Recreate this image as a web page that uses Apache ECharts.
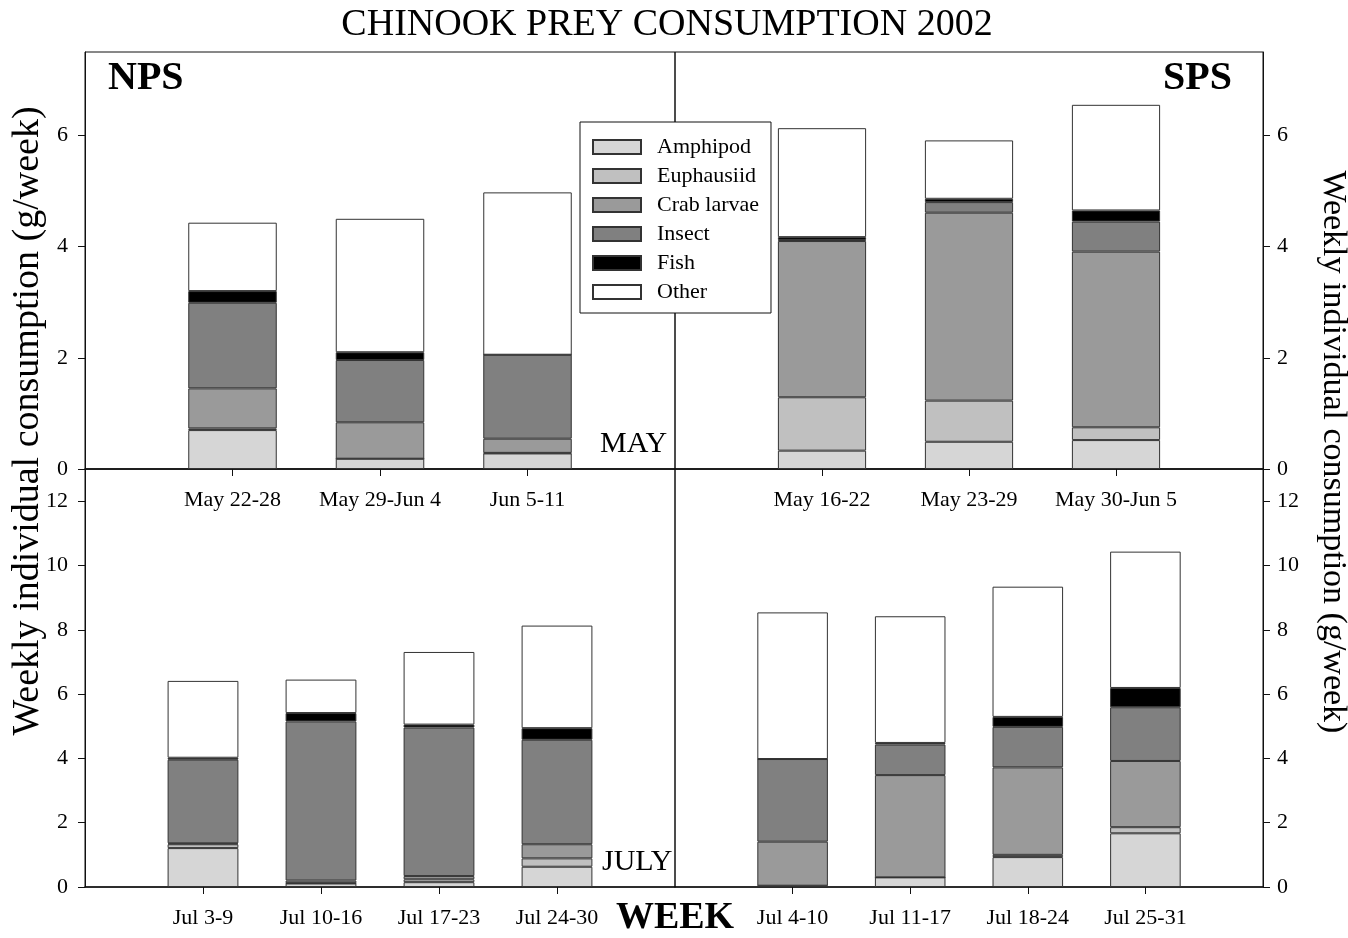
<!DOCTYPE html>
<html>
<head>
<meta charset="utf-8">
<title>Chinook prey consumption 2002</title>
<script src="https://cdn.jsdelivr.net/npm/echarts@6/dist/echarts.min.js"></script>
<style>
  html, body { margin: 0; padding: 0; background: #fff; }
  #chart { width: 1348px; height: 938px; }
</style>
</head>
<body>
<div id="chart"></div>
<script>
// Prey groups, bottom of each stack first
const preyNames = ['Amphipod', 'Euphausiid', 'Crab larvae', 'Insect', 'Fish', 'Other'];
const preyColors = ['#d6d6d6', '#c0c0c0', '#9a9a9a', '#808080', '#000000', '#ffffff'];

// Sampling weeks per basin and month
const npsMayWeeks = ['May 22-28', 'May 29-Jun 4', 'Jun 5-11'];
const spsMayWeeks = ['May 16-22', 'May 23-29', 'May 30-Jun 5'];
const npsJulWeeks = ['Jul 3-9', 'Jul 10-16', 'Jul 17-23', 'Jul 24-30'];
const spsJulWeeks = ['Jul 4-10', 'Jul 11-17', 'Jul 18-24', 'Jul 25-31'];

// Weekly individual consumption (g/week), one row per prey group (same order as preyNames)
const npsMayValues = [
  [0.70, 0.185, 0.28],
  [0.03, 0.00, 0.01],
  [0.72, 0.655, 0.255],
  [1.54, 1.12, 1.51],
  [0.21, 0.14, 0.00],
  [1.23, 2.40, 2.92]
];
const spsMayValues = [
  [0.33, 0.49, 0.52],
  [0.96, 0.74, 0.23],
  [2.81, 3.38, 3.16],
  [0.02, 0.19, 0.54],
  [0.05, 0.06, 0.20],
  [1.96, 1.05, 1.90]
];
const npsJulValues = [
  [1.21, 0.11, 0.15, 0.63],
  [0.12, 0.01, 0.09, 0.26],
  [0.03, 0.08, 0.10, 0.44],
  [2.60, 4.95, 4.62, 3.25],
  [0.06, 0.26, 0.09, 0.36],
  [2.39, 1.04, 2.26, 3.19]
];
const spsJulValues = [
  [0.03, 0.30, 0.93, 1.67],
  [0.01, 0.00, 0.07, 0.19],
  [1.37, 3.18, 2.72, 2.06],
  [2.57, 0.95, 1.26, 1.67],
  [0.00, 0.05, 0.31, 0.60],
  [4.56, 3.94, 4.05, 4.24]
];

// Axis ticks
const mayTicks = [0, 2, 4, 6];
const julTicks = [0, 2, 4, 6, 8, 10, 12];

const FONT = "'Liberation Serif', 'Times New Roman', serif";
const INK = '#111';

const panels = [
  { weeks: npsMayWeeks, values: npsMayValues, ticks: mayTicks, max: 7.5, side: 'left' },
  { weeks: spsMayWeeks, values: spsMayValues, ticks: mayTicks, max: 7.5, side: 'right' },
  { weeks: npsJulWeeks, values: npsJulValues, ticks: julTicks, max: 13, side: 'left' },
  { weeks: spsJulWeeks, values: spsJulValues, ticks: julTicks, max: 13, side: 'right' }
];

const grids = [
  { left: 85, top: 52, width: 590, height: 417 },
  { left: 675, top: 52, width: 588, height: 417 },
  { left: 85, top: 469, width: 590, height: 418 },
  { left: 675, top: 469, width: 588, height: 418 }
].map(g => Object.assign(g, { show: true, borderColor: INK, borderWidth: 1, backgroundColor: 'transparent' }));

// Each week axis has an empty slot at both ends so bars sit at whole steps inside the panel
const xAxes = panels.map((p, i) => ({
  type: 'category',
  gridIndex: i,
  data: [''].concat(p.weeks, ['']),
  boundaryGap: false,
  axisLine: { show: true, lineStyle: { color: INK, width: 1.5 } },
  axisTick: {
    show: true, length: 7, lineStyle: { color: INK },
    interval: (idx) => idx > 0 && idx <= p.weeks.length
  },
  axisLabel: { interval: 0, margin: 20, fontSize: 22, color: '#000', fontFamily: FONT },
  splitLine: { show: false }
}));

const yAxes = panels.map((p, i) => ({
  type: 'value',
  gridIndex: i,
  position: p.side,
  min: 0,
  max: p.max,
  axisLine: { show: true, lineStyle: { color: INK, width: 1 } },
  axisTick: { show: true, length: 7, lineStyle: { color: INK }, customValues: p.ticks },
  axisLabel: {
    fontSize: 22, color: '#000', fontFamily: FONT,
    margin: p.side === 'left' ? 17 : 14,
    customValues: p.ticks
  },
  splitLine: { show: false }
}));

const series = [];
panels.forEach((p, i) => {
  preyNames.forEach((name, k) => {
    series.push({
      type: 'bar',
      name: name,
      xAxisIndex: i,
      yAxisIndex: i,
      stack: 'panel' + i,
      barWidth: '60%',
      data: ['-'].concat(p.values[k], ['-']),
      itemStyle: { color: preyColors[k], borderColor: '#333', borderWidth: 1 },
      emphasis: { disabled: true }
    });
  });
});

const textStyle = (size, weight) => ({ fill: '#000', font: `${weight || 'normal'} ${size}px ${FONT}` });

const option = {
  animation: false,
  backgroundColor: '#fff',
  grid: grids,
  xAxis: xAxes,
  yAxis: yAxes,
  series: series,
  legend: {
    data: preyNames,
    orient: 'vertical',
    left: 580,
    top: 122,
    icon: 'rect',
    itemWidth: 48,
    itemHeight: 14,
    itemGap: 7,
    padding: [14, 12, 10, 12],
    backgroundColor: '#fff',
    borderColor: INK,
    borderWidth: 1,
    selectedMode: false,
    textStyle: { fontSize: 22, lineHeight: 22, color: '#000', fontFamily: FONT, padding: [0, 0, 0, 11] }
  },
  graphic: [
    { type: 'text', x: 667, y: 25, style: Object.assign(textStyle(38), { text: 'CHINOOK PREY CONSUMPTION 2002', textAlign: 'center', textVerticalAlign: 'middle' }) },
    { type: 'text', x: 108, y: 79, style: Object.assign(textStyle(40, 'bold'), { text: 'NPS', textAlign: 'left', textVerticalAlign: 'middle' }) },
    { type: 'text', x: 1232, y: 79, style: Object.assign(textStyle(40, 'bold'), { text: 'SPS', textAlign: 'right', textVerticalAlign: 'middle' }) },
    { type: 'text', x: 600, y: 444, style: Object.assign(textStyle(30), { text: 'MAY', textAlign: 'left', textVerticalAlign: 'middle' }) },
    { type: 'text', x: 602, y: 862, style: Object.assign(textStyle(30), { text: 'JULY', textAlign: 'left', textVerticalAlign: 'middle' }) },
    { type: 'text', x: 675, y: 918, style: Object.assign(textStyle(38, 'bold'), { text: 'WEEK', textAlign: 'center', textVerticalAlign: 'middle' }) },
    { type: 'text', x: 28, y: 421, rotation: Math.PI / 2, style: Object.assign(textStyle(38), { text: 'Weekly individual consumption (g/week)', textAlign: 'center', textVerticalAlign: 'middle' }) },
    { type: 'text', x: 1333, y: 452, rotation: -Math.PI / 2, style: Object.assign(textStyle(34), { text: 'Weekly individual consumption (g/week)', textAlign: 'center', textVerticalAlign: 'middle' }) }
  ]
};

const chart = echarts.init(document.getElementById('chart'), null, { renderer: 'canvas' });
chart.setOption(option);
</script>
</body>
</html>
